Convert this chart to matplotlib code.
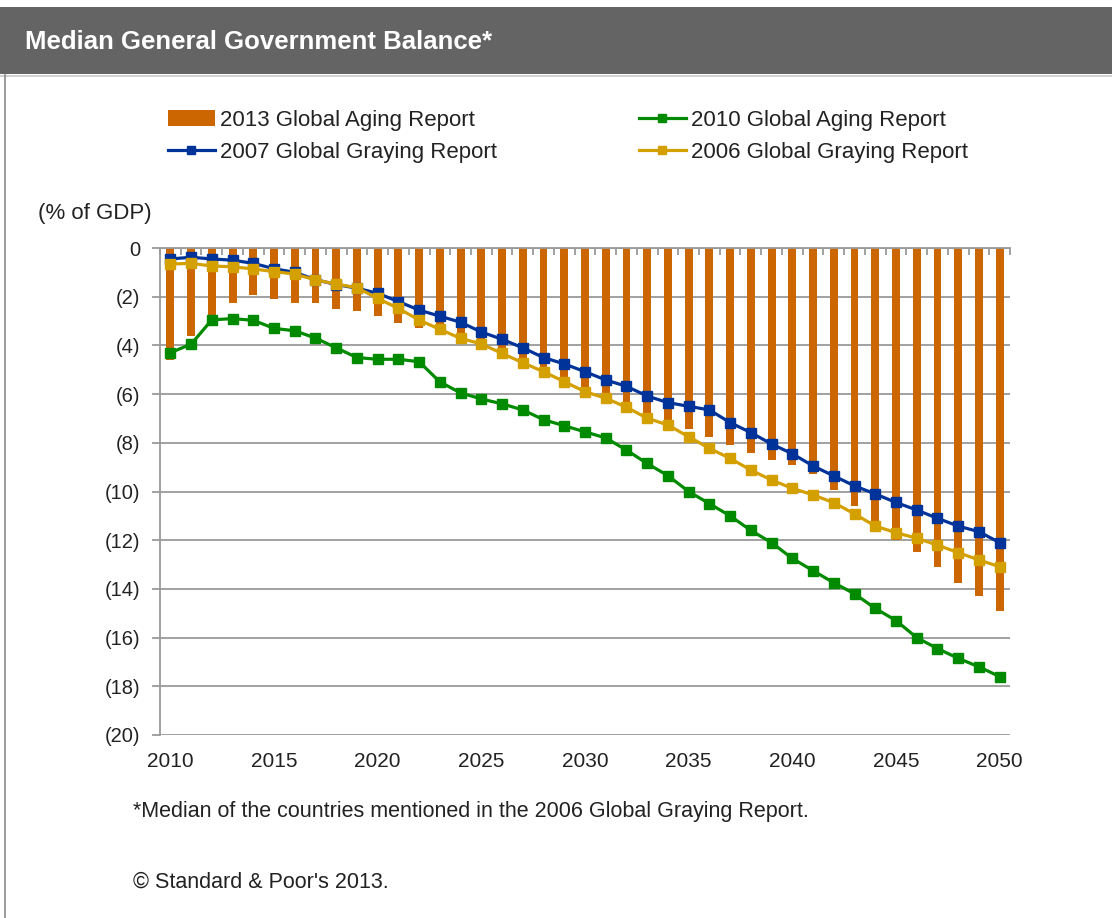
import matplotlib.pyplot as plt
import numpy as np
from matplotlib.patches import Rectangle
from matplotlib.lines import Line2D

years = list(range(2010, 2051))

# 2013 Global Aging Report (bars), % of GDP
aging_2013 = [-4.6, -3.6, -2.8, -2.25, -1.95, -2.1, -2.25, -2.25, -2.5, -2.6,
              -2.8, -3.1, -3.3, -3.35, -3.5, -3.9, -4.1, -4.5, -5.05, -5.4,
              -5.7, -5.95, -6.35, -6.8, -7.1, -7.45, -7.75, -8.1, -8.4, -8.7,
              -8.9, -9.3, -9.95, -10.6, -11.25, -12.0, -12.5, -13.1, -13.75, -14.3,
              -14.9]

# 2010 Global Aging Report
aging_2010 = [-4.3, -3.95, -2.95, -2.9, -2.97, -3.3, -3.4, -3.7, -4.1, -4.5,
              -4.57, -4.57, -4.67, -5.5, -5.95, -6.2, -6.4, -6.65, -7.05, -7.3,
              -7.55, -7.8, -8.3, -8.85, -9.35, -10.0, -10.5, -11.0, -11.6, -12.1,
              -12.75, -13.25, -13.75, -14.2, -14.8, -15.3, -16.0, -16.45, -16.85, -17.2,
              -17.6]

# 2007 Global Graying Report
graying_2007 = [-0.45, -0.38, -0.45, -0.5, -0.63, -0.85, -1.0, -1.3, -1.5, -1.65,
                -1.86, -2.2, -2.55, -2.8, -3.05, -3.45, -3.75, -4.1, -4.5, -4.76,
                -5.08, -5.42, -5.68, -6.08, -6.35, -6.5, -6.65, -7.17, -7.58, -8.05,
                -8.45, -8.95, -9.36, -9.77, -10.1, -10.45, -10.76, -11.1, -11.42, -11.65,
                -12.1]

# 2006 Global Graying Report
graying_2006 = [-0.66, -0.63, -0.74, -0.77, -0.86, -0.97, -1.07, -1.31, -1.48, -1.63,
                -2.07, -2.48, -2.96, -3.34, -3.71, -3.94, -4.33, -4.71, -5.08, -5.49,
                -5.9, -6.17, -6.54, -6.99, -7.27, -7.75, -8.23, -8.64, -9.12, -9.53,
                -9.87, -10.14, -10.46, -10.92, -11.42, -11.69, -11.92, -12.2, -12.51, -12.81,
                -13.09]

y_ticks = list(range(0, -21, -2))

ORANGE = '#CC6600'
GREEN = '#008A00'
BLUE = '#003399'
GOLD = '#D4A000'
GRID = '#9A9A9A'
TEXT = '#222222'

plt.rcParams['font.family'] = ['Liberation Sans', 'DejaVu Sans']

fig = plt.figure(figsize=(11.12, 9.18), dpi=100)

# title bar
fig.patches.append(Rectangle((0, 1 - 74 / 918), 1, 67 / 918, transform=fig.transFigure,
                             facecolor='#646464', edgecolor='none', zorder=0))
fig.lines.append(Line2D([0, 1], [1 - 75.5 / 918] * 2, transform=fig.transFigure,
                        color='#C8C8C8', linewidth=1.2))
fig.lines.append(Line2D([5 / 1112] * 2, [0, 1 - 75 / 918], transform=fig.transFigure,
                        color='#8A8A8A', linewidth=1.2))
fig.text(25 / 1112, 1 - 42 / 918, 'Median General Government Balance*', color='white',
         fontsize=18.5, fontweight='bold', va='center', ha='left')

ax = fig.add_axes([160 / 1112, 1 - 735 / 918, 850 / 1112, 487 / 918])
x = np.arange(len(years))

ax.bar(x, aging_2013, width=0.38, color=ORANGE, zorder=2,
       label='2013 Global Aging Report')
lw = 2.3
ms = 6.5
ax.plot(x, aging_2010, color=GREEN, marker='s', linewidth=lw, markersize=ms, zorder=3,
        label='2010 Global Aging Report')
ax.plot(x, graying_2007, color=BLUE, marker='s', linewidth=lw, markersize=ms, zorder=3,
        label='2007 Global Graying Report')
ax.plot(x, graying_2006, color=GOLD, marker='s', linewidth=lw, markersize=ms, zorder=4,
        label='2006 Global Graying Report')

ax.set_xlim(-0.5, len(years) - 0.5)
ax.set_ylim(-20, 0)
ax.set_yticks(y_ticks)
ax.set_yticklabels(['0' if v == 0 else '(%d)' % -v for v in y_ticks], fontsize=14.5)
ax.yaxis.grid(True, color=GRID, linewidth=1.3, zorder=1)
ax.set_axisbelow(True)

# category axis sits at the top (y = 0) with labels below the plot
ax.set_xticks(np.arange(-0.5, len(years), 1), minor=True)
ax.set_xticks([])
ax.tick_params(axis='x', which='minor', direction='in', length=5, color=GRID,
               width=1.3, top=True, bottom=False, labelbottom=False)
for i, yr in enumerate(years):
    if yr % 5 == 0:
        ax.text(i, -20.7, str(yr), ha='center', va='top', fontsize=15, color=TEXT)
ax.tick_params(axis='y', length=6, color=GRID, width=1.3, pad=8, labelcolor=TEXT)
for side in ['right', 'bottom']:
    ax.spines[side].set_visible(False)
ax.spines['left'].set_color(GRID)
ax.spines['left'].set_linewidth(1.3)
ax.spines['top'].set_color(GRID)
ax.spines['top'].set_linewidth(1.3)

fig.text(38 / 1112, 1 - 214 / 918, '(% of GDP)', fontsize=16, va='center',
         ha='left', color=TEXT)

handles, labels = ax.get_legend_handles_labels()
order = [labels.index(s) for s in ['2013 Global Aging Report', '2007 Global Graying Report',
                                   '2010 Global Aging Report', '2006 Global Graying Report']]
leg = fig.legend([handles[i] for i in order], [labels[i] for i in order], ncol=2,
                 loc='upper left', bbox_to_anchor=(168 / 1112, 1 - 110 / 918),
                 frameon=False, fontsize=16, handlelength=2.1, handletextpad=0.23,
                 columnspacing=6.4, labelspacing=0.5, borderpad=0, borderaxespad=0,
                 markerscale=0.8)
for t in leg.get_texts():
    t.set_color(TEXT)

fig.text(133 / 1112, 1 - 812 / 918,
         '*Median of the countries mentioned in the 2006 Global Graying Report.',
         fontsize=15.5, va='center', ha='left', color=TEXT)
fig.text(133 / 1112, 1 - 882 / 918, '\u00a9 Standard & Poor\'s 2013.',
         fontsize=15.5, va='center', ha='left', color=TEXT)

fig.savefig('out.png', dpi=100, facecolor='white')
